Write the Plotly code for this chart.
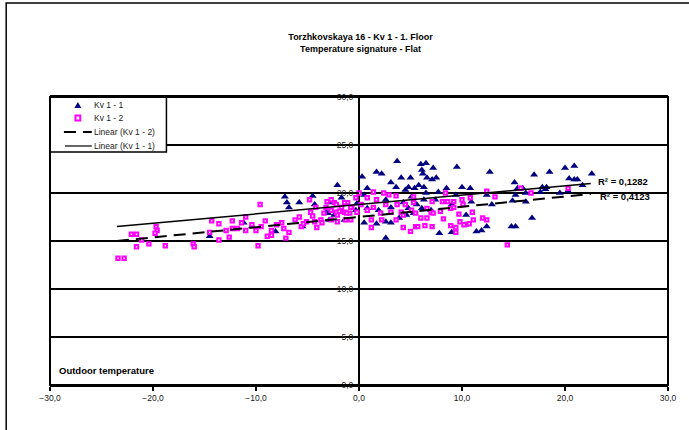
import plotly.graph_objects as go

# ---- data ----
kv11_x = [-14.5, -11.2, -10.4, -8.1, -7.2, -7.0, -6.8, -5.8, -5.5, -4.5, -4.3, -3.2, -2.1, -1.7, -0.3,
          3.7, 0.3, 1.7, 2.2, 0.8, 3.1, 4.1, 5.0, 3.6, 4.8, 4.5, 5.4, 5.1, 0.5, 2.6, -2.9, -0.2, 0.8, 1.9,
          3.1, 4.3, 4.8, -3.0, -2.4, 0.5, 1.7, 2.6, 3.1, 3.9, 4.6, 2.6, 5.3, -1.4, -2.9,
          6.0, 6.5, 6.1, 6.2, 7.2, 9.5, 12.7, 6.6, 7.1, 7.5, 5.8, 6.3, 8.5, 10.0, 10.8, 7.7, 6.5, 9.4,
          12.4, 6.3, 7.4, 10.9, 5.6, 9.0, 12.9, 6.1, 10.4, 10.3, 11.4, 11.9, 12.4, 7.8, 9.0, 7.0,
          15.1, 17.0, 18.5, 20.0, 20.9, 22.6, 20.4, 20.9, 21.2, 21.7, 15.4, 15.9, 17.8, 18.2, 18.1,
          17.6, 20.3, 15.2, 16.2, 19.5, 14.9, 16.2, 16.8, 14.8, 15.2]
kv11_y = [15.5, 16.9, 16.5, 16.0, 19.6, 19.0, 18.5, 19.0, 16.5, 19.7, 18.8, 18.0, 20.8, 19.5, 18.2,
          23.3, 21.7, 22.2, 22.0, 20.5, 21.1, 21.6, 21.6, 20.6, 20.6, 20.3, 20.5, 19.6, 19.8, 19.3, 19.0,
          18.9, 18.4, 18.2, 18.5, 19.0, 18.4, 17.9, 17.7, 16.9, 16.8, 17.0, 16.9, 17.4, 17.7, 15.3, 17.9,
          17.2, 17.2,
          23.0, 23.1, 22.4, 22.0, 22.6, 22.7, 22.2, 21.6, 21.4, 21.6, 20.8, 20.6, 20.5, 20.6, 20.5,
          20.1, 20.0, 19.8, 19.8, 19.3, 19.3, 19.1, 18.8, 18.8, 18.8, 18.4, 17.7, 16.7, 16.0, 16.1,
          16.5, 15.8, 15.9, 18.2,
          21.1, 21.9, 22.2, 22.6, 22.8, 22.0, 21.5, 21.4, 21.4, 20.8, 20.5, 20.5, 20.6, 20.6, 20.4,
          20.1, 20.2, 19.8, 20.0, 20.0, 19.2, 19.1, 17.4, 16.5, 16.5]

kv12_x = [-23.4, -22.8, -22.1, -21.6, -21.1, -21.6, -20.4, -19.7, -19.6, -19.8, -18.8, -16.1, -16.0,
          -14.3, -14.5, -13.6, -13.6, -12.9, -12.6, -12.3, -12.3, -11.8, -11.4, -11.0, -11.0, -10.4,
          -10.0, -9.8, -9.6, -9.5, -9.1, -8.9, -8.5, -8.5, -8.0, -7.5, -7.3, -7.1, -6.8, -6.2, -5.8,
          -5.6, -5.4, -5.1, -4.8, -4.7, -4.5, -4.3, -4.2, -4.1, -3.7, -3.6, -3.1, -2.7, -2.4, -2.2,
          -2.1, -1.7, -1.4, -1.3, -1.1, -0.9, -0.7, -0.3,
          0.0, 1.4, 2.4, 3.6, 2.9, 0.8, 1.7, -2.7, -2.2, -1.4, -0.8, -3.2, 0.2, 1.4, 2.6, 3.7, 4.5,
          5.3, -2.7, -1.9, -1.2, -0.2, 0.8, 2.1, 3.1, 4.1, 5.1, -2.1, -0.8, 1.2, 2.2, 3.6, 4.3, 1.2,
          4.3, 5.0, 5.5, -3.4,
          5.3, 7.1, 8.4, 8.1, 8.6, 9.2, 10.0, 10.8, 12.4, 13.2, 6.6, 7.0, 5.5, 6.6, 7.2, 7.9, 8.9,
          9.2, 10.1, 9.7, 11.0, 6.0, 8.2, 5.7, 6.4, 7.1, 8.9, 9.4, 9.4, 9.8, 10.2, 10.7, 11.1, 12.0,
          12.4, 14.4,
          15.7, 16.7, 20.3]
kv12_y = [13.2, 13.2, 15.7, 15.7, 15.1, 14.4, 14.7, 16.5, 16.1, 15.8, 14.5, 14.7, 14.4,
          17.1, 15.9, 16.8, 15.1, 16.1, 15.4, 16.3, 17.1, 16.3, 16.9, 17.5, 16.1, 16.7,
          16.1, 14.5, 18.8, 16.5, 17.1, 15.5, 15.6, 16.1, 16.7, 16.9, 16.3, 15.3, 15.9, 17.2, 17.5,
          16.5, 16.8, 17.0, 19.3, 18.0, 17.6, 17.0, 18.5, 16.4, 17.2, 16.9, 19.1, 17.2, 19.0, 18.0,
          17.7, 18.5, 18.0, 17.2, 19.0, 17.9, 18.5, 19.5,
          20.0, 20.1, 20.0, 19.7, 19.8, 19.5, 19.3, 19.3, 18.8, 19.0, 18.5, 18.5, 18.8, 18.5, 18.8,
          18.8, 18.8, 19.0, 18.2, 18.1, 17.9, 18.0, 18.2, 17.9, 18.0, 18.0, 18.2, 17.0, 17.2, 17.2,
          17.2, 17.2, 17.7, 16.4, 16.4, 16.0, 16.5, 17.9,
          19.6, 19.1, 20.0, 19.1, 19.1, 19.1, 19.3, 19.5, 20.2, 19.6, 18.4, 18.0, 17.9, 17.4, 17.9,
          18.1, 18.4, 18.5, 18.8, 17.8, 18.0, 17.4, 17.3, 16.5, 16.6, 16.5, 16.6, 16.4, 15.9, 17.0,
          16.7, 16.8, 17.2, 17.4, 17.2, 14.6,
          20.5, 20.0, 20.5]

trend_x = [-23.5, 22.5]
trend11_y = [16.5, 21.0]
trend12_y = [15.0, 19.9]

series_names = ["Kv 1 - 1", "Kv 1 - 2", "Linear (Kv 1 - 2)", "Linear (Kv 1 - 1)"]
r2_labels = ["R² = 0,1282", "R² = 0,4123"]
r2_pos_x = [23.0, 23.2]
r2_pos_y = [21.15, 19.6]

title_text = "<b>Torzhkovskaya 16 - Kv 1 - 1. Floor<br>Temperature signature - Flat</b>"
x_label = "Outdoor temperature"

FONT = "Liberation Sans, Arial, sans-serif"
NAVY = "#000080"
MAGENTA = "#FF00FF"

# ---- figure ----
fig = go.Figure()
fig.add_trace(go.Scatter(x=kv11_x, y=kv11_y, mode="markers", name=series_names[0],
                         marker=dict(symbol="triangle-up", size=7, color=NAVY, line=dict(width=0))))
fig.add_trace(go.Scatter(x=kv12_x, y=kv12_y, mode="markers", name=series_names[1],
                         marker=dict(symbol="square", size=3.4, color="white",
                                     line=dict(width=2, color=MAGENTA))))
fig.add_trace(go.Scatter(x=trend_x, y=trend12_y, mode="lines", name=series_names[2],
                         line=dict(color="black", width=2, dash="12px,7px")))
fig.add_trace(go.Scatter(x=trend_x, y=trend11_y, mode="lines", name=series_names[3],
                         line=dict(color="black", width=1.5)))

for lab, xx, yy in zip(r2_labels, r2_pos_x, r2_pos_y):
    fig.add_annotation(x=xx, y=yy, text="<b>" + lab + "</b>", showarrow=False,
                       xanchor="left", yanchor="middle",
                       font=dict(family=FONT, size=9.5, color="black"))

fig.add_annotation(xref="paper", yref="paper", x=0.0113, y=0.052, text="<b>" + x_label + "</b>",
                   showarrow=False, xanchor="left", yanchor="middle",
                   font=dict(family=FONT, size=9.5, color="black"))

# outer chart border (partially cropped in the reference)
fig.add_shape(type="rect", xref="paper", yref="paper", x0=-0.0709, x1=1.06, y0=-0.2, y1=1.3264,
              line=dict(color="black", width=1.5), layer="below")

# ---- legend drawn as a boxed key in the top-left corner of the plot area ----
PW, PH = 621.0, 288.0  # plot area size in px
def px_x(p):
    return (p - 50) / PW
def px_y(p):
    return (385 - p) / PH

fig.add_shape(type="rect", xref="paper", yref="paper", x0=0, x1=px_x(167), y0=px_y(152), y1=1,
              line=dict(color="black", width=1.5), fillcolor="white", layer="above")
tx, ty = px_x(78), px_y(105)
dx, dy = 3.5 / PW, 3.0 / PH
fig.add_shape(type="path", xref="paper", yref="paper",
              path=f"M {tx-dx},{ty-dy} L {tx+dx},{ty-dy} L {tx},{ty+dy} Z",
              fillcolor=NAVY, line=dict(width=0))
sx, sy = px_x(78), px_y(118)
hx, hy = 2.4 / PW, 2.4 / PH
fig.add_shape(type="rect", xref="paper", yref="paper", x0=sx-hx, x1=sx+hx, y0=sy-hy, y1=sy+hy,
              fillcolor="white", line=dict(color=MAGENTA, width=2))
fig.add_shape(type="line", xref="paper", yref="paper", x0=px_x(64), x1=px_x(92),
              y0=px_y(132), y1=px_y(132), line=dict(color="black", width=2, dash="12px,7px"))
fig.add_shape(type="line", xref="paper", yref="paper", x0=px_x(65), x1=px_x(92),
              y0=px_y(146), y1=px_y(146), line=dict(color="black", width=1.2))
for name, yy in zip(series_names, [105, 118, 132, 146]):
    fig.add_annotation(xref="paper", yref="paper", x=px_x(92.5), y=px_y(yy), text=name,
                       showarrow=False, xanchor="left", yanchor="middle",
                       font=dict(family=FONT, size=8.5, color="#222"))

fig.update_layout(
    width=689, height=430,
    margin=dict(l=50, r=18, t=97, b=45),
    paper_bgcolor="white", plot_bgcolor="white",
    separators=",.",
    title=dict(text=title_text, x=(360.5 / 689), xanchor="center", y=1 - 40 / 430, yanchor="middle",
               font=dict(family=FONT, size=9, color="black")),
    font=dict(family=FONT, size=8, color="black"),
    showlegend=False,
    xaxis=dict(range=[-30, 30], tickvals=[-30, -20, -10, 0, 10, 20, 30], tickformat=".1f",
               showgrid=False, zeroline=True, zerolinecolor="black", zerolinewidth=2,
               showline=True, linecolor="black", linewidth=2, mirror=True,
               ticks="outside", ticklen=4, tickcolor="black", tickwidth=1.5,
               tickfont=dict(size=8.5, color="#222")),
    yaxis=dict(range=[0, 30], tickvals=[0, 5, 10, 15, 20, 25, 30], tickformat=".1f",
               showgrid=True, gridcolor="black", gridwidth=1.5, zeroline=False,
               anchor="free", position=0.5, showline=False,
               ticks="outside", ticklen=4, tickcolor="black", tickwidth=1.5,
               tickfont=dict(size=8.5, color="#222")),
)
fig.add_shape(type="rect", xref="paper", yref="paper", x0=0, x1=1, y0=0, y1=1,
              line=dict(color="black", width=2))

fig.write_html("out.html", config={"displayModeBar": False},
               post_script="document.body.style.margin='0';")
